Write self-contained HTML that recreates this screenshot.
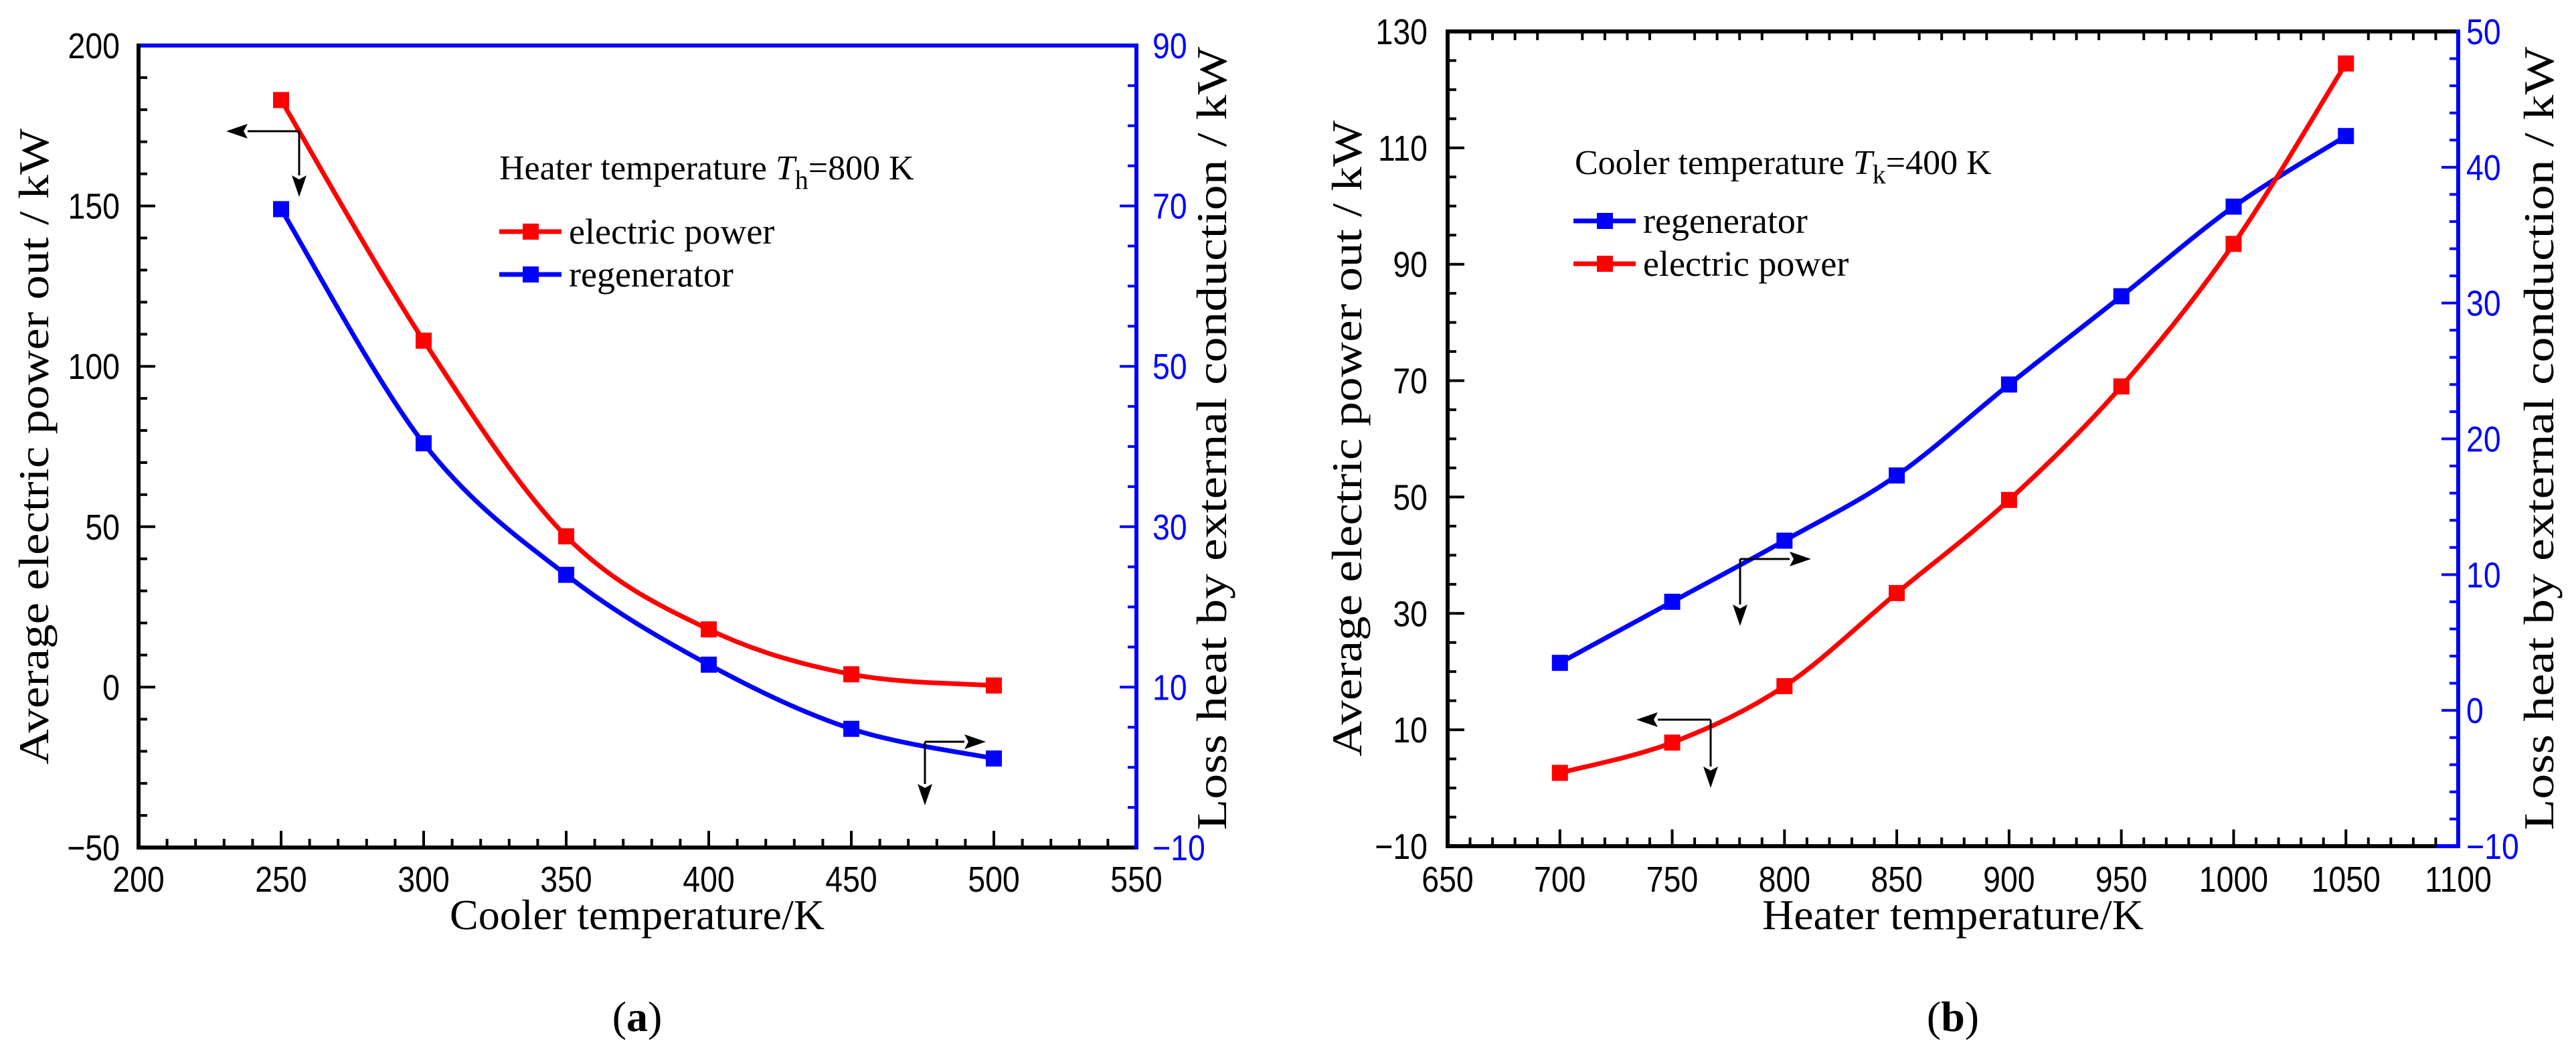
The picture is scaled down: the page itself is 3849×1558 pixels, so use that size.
<!DOCTYPE html>
<html><head><meta charset="utf-8"><style>
html,body{margin:0;padding:0;background:#fff;}
svg{display:block;}
</style></head><body>
<svg id="fig" width="3849" height="1558" viewBox="0 0 3849 1558" xmlns="http://www.w3.org/2000/svg"></svg>
<script>
// ---------- Chart (a) data ----------
const aCategories = [250, 300, 350, 400, 450, 500];
const aPower = [183, 108, 47, 18, 4, 0.5];
const aRegen = [69.6, 40.4, 24, 12.8, 4.8, 1.1];
const aXTicks = [200, 250, 300, 350, 400, 450, 500, 550];
const aYTicks = [-50, 0, 50, 100, 150, 200];
const aY2Ticks = [-10, 10, 30, 50, 70, 90];
// ---------- Chart (b) data ----------
const bCategories = [700, 750, 800, 850, 900, 950, 1000, 1050];
const bPower = [2.6, 7.8, 17.5, 33.5, 49.5, 69, 93.5, 124.5];
const bRegen = [3.5, 8, 12.5, 17.3, 24, 30.5, 37.1, 42.3];
const bXTicks = [650, 700, 750, 800, 850, 900, 950, 1000, 1050, 1100];
const bYTicks = [-10, 10, 30, 50, 70, 90, 110, 130];
const bY2Ticks = [-10, 0, 10, 20, 30, 40, 50];

const NS = "http://www.w3.org/2000/svg";
const svg = document.getElementById('fig');
function mk(tag, attrs, parent) {
  const e = document.createElementNS(NS, tag);
  for (const k in attrs) e.setAttribute(k, attrs[k]);
  (parent || svg).appendChild(e);
  return e;
}
function lin(d0, d1, r0, r1) { return v => r0 + (v - d0) / (d1 - d0) * (r1 - r0); }
function tickText(x, y, str, anchor, color, name) {
  const t = mk('text', {transform: `translate(${x},${y}) scale(0.86,1)`, 'text-anchor': anchor,
    'font-family': 'Liberation Sans, Arial, sans-serif', 'font-size': 54, fill: color});
  t.textContent = str;
  
  
  return t;
}
function serifText(x, y, str, size, rot, len, name) {
  const a = {x: x, y: y, 'text-anchor': 'middle', 'font-family': 'Liberation Serif, Times New Roman, serif', 'font-size': size, fill: '#000'};
  if (rot) a.transform = `rotate(${rot},${x},${y})`;
  if (len) { a.textLength = len; a.lengthAdjust = 'spacingAndGlyphs'; }
  const t = mk('text', a);
  t.textContent = str;
  
  
  return t;
}
function spline(pts) {
  let d = `M${pts[0][0]},${pts[0][1]}`;
  for (let i = 0; i < pts.length - 1; i++) {
    const p0 = pts[i - 1] || pts[i], p1 = pts[i], p2 = pts[i + 1], p3 = pts[i + 2] || pts[i + 1];
    const c1 = [p1[0] + (p2[0] - p0[0]) / 6, p1[1] + (p2[1] - p0[1]) / 6];
    const c2 = [p2[0] - (p3[0] - p1[0]) / 6, p2[1] - (p3[1] - p1[1]) / 6];
    d += ` C${c1[0]},${c1[1]} ${c2[0]},${c2[1]} ${p2[0]},${p2[1]}`;
  }
  return d;
}
function series(xs, ys, sx, sy, color, name) {
  const g = mk('g', {});
  
  
  const pts = xs.map((x, i) => [sx(x), sy(ys[i])]);
  const p = mk('path', {d: spline(pts), fill: 'none', stroke: color, 'stroke-width': 7}, g);
  
  
  pts.forEach((pt, i) => {
    const r = mk('rect', {x: pt[0] - 12, y: pt[1] - 12, width: 24, height: 24, fill: color}, g);
    
    
  });
}
function arrow(x1, y1, x2, y2, name) {
  const g = mk('g', {});
  
  
  const dx = x2 - x1, dy = y2 - y1, L = Math.hypot(dx, dy), ux = dx / L, uy = dy / L;
  const bx = x2 - ux * 32, by = y2 - uy * 32;
  mk('line', {x1: x1, y1: y1, x2: bx, y2: by, stroke: '#000', 'stroke-width': 3}, g);
  mk('polygon', {points: `${x2},${y2} ${bx - uy * 11},${by + ux * 11} ${bx + ux * 6},${by + uy * 6} ${bx + uy * 11},${by - ux * 11}`, fill: '#000'}, g);
}
function legend(x, y, color, label, name) {
  const g = mk('g', {});
  
  
  mk('line', {x1: x, y1: y, x2: x + 93, y2: y, stroke: color, 'stroke-width': 7}, g);
  mk('rect', {x: x + 35, y: y - 12, width: 24, height: 24, fill: color}, g);
  const t = mk('text', {x: x + 104, y: y + 18, 'font-family': 'Liberation Serif, Times New Roman, serif', 'font-size': 54, fill: '#000'}, g);
  t.textContent = label;
}
function legendTitle(x, y, pre, sub, post, name) {
  const t = mk('text', {x: x, y: y, 'font-family': 'Liberation Serif, Times New Roman, serif', 'font-size': 52, fill: '#000'});
  
  
  const s1 = mk('tspan', {}, t); s1.textContent = pre;
  const s2 = mk('tspan', {'font-style': 'italic'}, t); s2.textContent = 'T';
  const s3 = mk('tspan', {dy: 14, 'font-size': 40}, t); s3.textContent = sub;
  const s4 = mk('tspan', {dy: -14}, t); s4.textContent = post;
}

// ================= Chart (a) =================
(function () {
  const X0 = 207, X1 = 1698, Y0 = 68, Y1 = 1266;
  const sx = lin(200, 550, X0, X1), sy = lin(-50, 200, Y1, Y0), sy2 = lin(-10, 90, Y1, Y0);
  const ax = mk('g', {});  
  mk('line', {x1: X0, y1: Y0, x2: X1, y2: Y0, stroke: '#00f', 'stroke-width': 6}, ax);
  mk('line', {x1: X1, y1: Y0 - 3, x2: X1, y2: Y1 + 3, stroke: '#00f', 'stroke-width': 6}, ax);
  mk('line', {x1: X0, y1: Y0 - 3, x2: X0, y2: Y1 + 3, stroke: '#000', 'stroke-width': 6}, ax);
  mk('line', {x1: X0 - 3, y1: Y1, x2: X1 - 3, y2: Y1, stroke: '#000', 'stroke-width': 6}, ax);
  for (let v = 200; v <= 550; v += 10) {
    const maj = v % 50 === 0; if (v === 200 || v === 550) continue;
    mk('line', {x1: sx(v), y1: Y1, x2: sx(v), y2: Y1 - (maj ? 25 : 13), stroke: '#000', 'stroke-width': 4}, ax);
  }
  aXTicks.forEach(v => tickText(sx(v), Y1 + 66, String(v), 'middle', '#000', 'x-tick-a-' + v));
  for (let v = -50; v <= 200; v += 10) {
    const maj = v % 50 === 0; if (v === -50 || v === 200) continue;
    mk('line', {x1: X0, y1: sy(v), x2: X0 + (maj ? 25 : 13), y2: sy(v), stroke: '#000', 'stroke-width': 4}, ax);
  }
  aYTicks.forEach(v => tickText(X0 - 28, sy(v) + 19, v < 0 ? '\u2212' + (-v) : String(v), 'end', '#000', 'y-tick-a-' + v));
  for (let v = -10; v <= 90; v += 5) {
    const maj = (v + 10) % 20 === 0; if (v === -10 || v === 90) continue;
    mk('line', {x1: X1, y1: sy2(v), x2: X1 - (maj ? 25 : 13), y2: sy2(v), stroke: '#00f', 'stroke-width': 4}, ax);
  }
  aY2Ticks.forEach(v => tickText(X1 + 24, sy2(v) + 19, v < 0 ? '\u2212' + (-v) : String(v), 'start', '#00f', 'y2-tick-a-' + v));
  serifText(952, 1388, 'Cooler temperature/K', 64, 0, 560, 'x-axis-title-a');
  serifText(72, 667, 'Average electric power out / kW', 64, -90, 950, 'y-axis-title-a');
  serifText(1832, 655, 'Loss heat by external conduction / kW', 64, -90, 1170, 'y2-axis-title-a');
  const lab = mk('text', {x: 952, y: 1540, 'text-anchor': 'middle', 'font-family': 'Liberation Serif, serif', 'font-size': 64});
   
  lab.innerHTML = '(<tspan font-weight="bold">a</tspan>)';
  series(aCategories, aRegen, sx, sy2, '#0000ff', 'series-a-regenerator');
  series(aCategories, aPower, sx, sy, '#ff0000', 'series-a-electric-power');
  arrow(447, 196, 338, 196, 'arrow-a-left');
  arrow(447, 196, 447, 294, 'arrow-a-down1');
  arrow(1382, 1108, 1473, 1108, 'arrow-a-right');
  arrow(1382, 1108, 1382, 1203, 'arrow-a-down2');
  legendTitle(746, 268, 'Heater temperature ', 'h', '=800 K', 'legend-title-a');
  legend(746, 346, '#ff0000', 'electric power', 'legend-a-electric-power');
  legend(746, 410, '#0000ff', 'regenerator', 'legend-a-regenerator');
})();

// ================= Chart (b) =================
(function () {
  const X0 = 2163, X1 = 3673, Y0 = 47, Y1 = 1264;
  const sx = lin(650, 1100, X0, X1), sy = lin(-10, 130, Y1, Y0), sy2 = lin(-10, 50, Y1, Y0);
  const ax = mk('g', {});  
  mk('line', {x1: X0 - 3, y1: Y0, x2: X1, y2: Y0, stroke: '#000', 'stroke-width': 6}, ax);
  mk('line', {x1: X0, y1: Y0 - 3, x2: X0, y2: Y1 + 3, stroke: '#000', 'stroke-width': 6}, ax);
  mk('line', {x1: X0 - 3, y1: Y1, x2: X1, y2: Y1, stroke: '#000', 'stroke-width': 6}, ax);
  mk('line', {x1: sx(1090), y1: Y1, x2: X1, y2: Y1, stroke: '#00f', 'stroke-width': 6}, ax);
  mk('line', {x1: X1, y1: Y0 - 3, x2: X1, y2: Y1 + 3, stroke: '#00f', 'stroke-width': 6}, ax);
  for (let v = 650; v <= 1100; v += 10) {
    const maj = v % 50 === 0; if (v === 650 || v === 1100) continue;
    mk('line', {x1: sx(v), y1: Y1, x2: sx(v), y2: Y1 - (maj ? 25 : 13), stroke: '#000', 'stroke-width': 4}, ax);
    if (!maj) mk('line', {x1: sx(v), y1: Y0, x2: sx(v), y2: Y0 + 13, stroke: '#000', 'stroke-width': 4}, ax);
  }
  bXTicks.forEach(v => tickText(sx(v), Y1 + 68, String(v), 'middle', '#000', 'x-tick-b-' + v));
  for (let v = -10; v <= 130; v += 5) {
    const maj = (v + 10) % 20 === 0; if (v === -10 || v === 130) continue;
    mk('line', {x1: X0, y1: sy(v), x2: X0 + (maj ? 25 : 13), y2: sy(v), stroke: '#000', 'stroke-width': 4}, ax);
  }
  bYTicks.forEach(v => tickText(X0 - 30, sy(v) + 19, v < 0 ? '\u2212' + (-v) : String(v), 'end', '#000', 'y-tick-b-' + v));
  for (let v = -10; v <= 50; v += 2) {
    const maj = v % 10 === 0; if (v === -10 || v === 50) continue;
    mk('line', {x1: X1, y1: sy2(v), x2: X1 - (maj ? 25 : 13), y2: sy2(v), stroke: '#00f', 'stroke-width': 4}, ax);
  }
  bY2Ticks.forEach(v => tickText(X1 + 12, sy2(v) + 19, v < 0 ? '\u2212' + (-v) : String(v), 'start', '#00f', 'y2-tick-b-' + v));
  serifText(2918, 1388, 'Heater temperature/K', 64, 0, 570, 'x-axis-title-b');
  serifText(2034, 655, 'Average electric power out / kW', 64, -90, 950, 'y-axis-title-b');
  serifText(3815, 655, 'Loss heat by external conduction / kW', 64, -90, 1170, 'y2-axis-title-b');
  const lab = mk('text', {x: 2918, y: 1540, 'text-anchor': 'middle', 'font-family': 'Liberation Serif, serif', 'font-size': 64});
   
  lab.innerHTML = '(<tspan font-weight="bold">b</tspan>)';
  series(bCategories, bRegen, sx, sy2, '#0000ff', 'series-b-regenerator');
  series(bCategories, bPower, sx, sy, '#ff0000', 'series-b-electric-power');
  arrow(2600, 835, 2706, 835, 'arrow-b-right');
  arrow(2600, 835, 2600, 935, 'arrow-b-down1');
  arrow(2556, 1075, 2445, 1075, 'arrow-b-left');
  arrow(2556, 1075, 2556, 1177, 'arrow-b-down2');
  legendTitle(2353, 260, 'Cooler temperature ', 'k', '=400 K', 'legend-title-b');
  legend(2351, 330, '#0000ff', 'regenerator', 'legend-b-regenerator');
  legend(2351, 394, '#ff0000', 'electric power', 'legend-b-electric-power');
})();
</script>
</body></html>
